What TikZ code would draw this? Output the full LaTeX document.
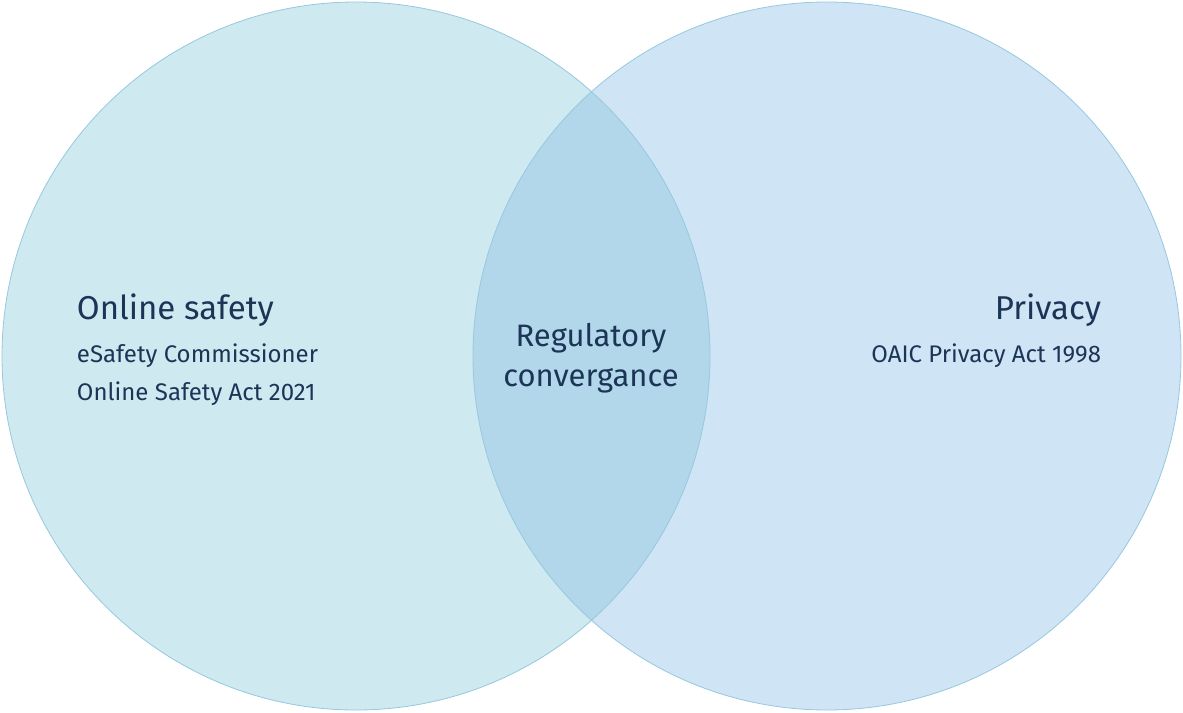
\documentclass[tikz,border=0pt]{standalone}
\usepackage{fontspec}
\setmainfont{Fira Sans}
\definecolor{safetyfill}{RGB}{206,233,240}
\definecolor{privacyfill}{RGB}{207,229,245}
\definecolor{overlapfill}{RGB}{178,215,234}
\definecolor{ringline}{RGB}{150,200,222}
\definecolor{navytext}{RGB}{28,52,86}
\tikzset{
  heading/.style={inner sep=0.75pt, text=navytext, font=\fontsize{33}{36}\selectfont},
  detail/.style={inner sep=0.75pt, text=navytext, font=\fontsize{24}{38}\selectfont, align=left},
}
\begin{document}
\begin{tikzpicture}[x=1pt,y=1pt,yscale=-1]
\useasboundingbox (0,0) rectangle (1183,712);

% Circles
\fill [safetyfill] (356,356) circle (354);
\fill [privacyfill] (827,356) circle (354);
\begin{scope}
\clip (356,356) circle (354);
\fill [overlapfill] (827,356) circle (354);
\end{scope}
\draw [ringline, line width=0.8] (356,356) circle (354);
\draw [ringline, line width=0.8] (827,356) circle (354);

% Text Node
\node (safety) [heading, anchor=west] at (76,310) {Online safety};
% Text Node
\node (safetylist) [detail, anchor=north west] at (76,343) {eSafety Commissioner\\Online Safety Act 2021};
% Text Node
\node (privacy) [heading, anchor=east] at (1102,310) {Privacy};
% Text Node
\node (privacylist) [detail, anchor=north east] at (1102,343) {OAIC Privacy Act 1998};
% Text Node
\node (overlap) [heading, align=center, font=\fontsize{31}{40}\selectfont] at (591,358) {Regulatory\\convergance};

\end{tikzpicture}
\end{document}
